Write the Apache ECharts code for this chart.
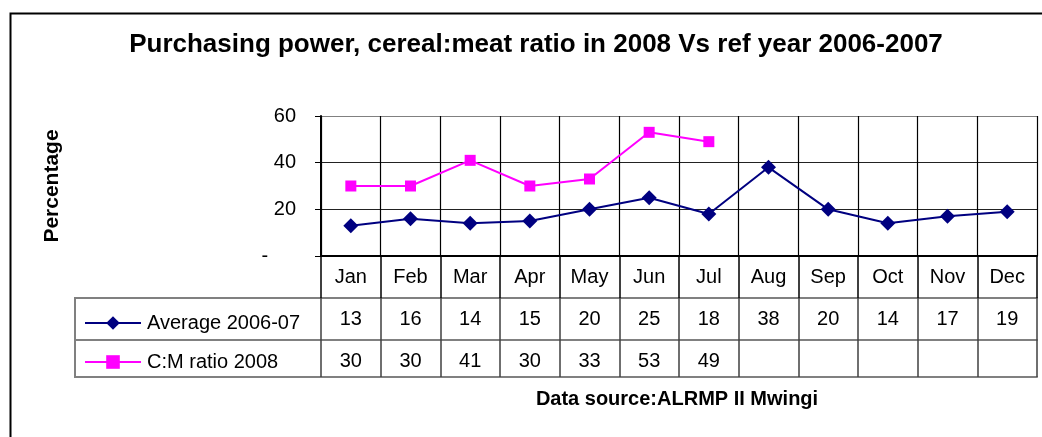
<!DOCTYPE html>
<html>
<head>
<meta charset="utf-8">
<script src="https://cdn.jsdelivr.net/npm/echarts@6/dist/echarts.min.js"></script>
<style>
html,body{margin:0;padding:0;background:#fff;}
#chart{width:1042px;height:437px;}
</style>
</head>
<body>
<div id="chart"></div>
<script>
const months = ['Jan','Feb','Mar','Apr','May','Jun','Jul','Aug','Sep','Oct','Nov','Dec'];
const average0607 = [13,16,14,15,20,25,18,38,20,14,17,19];
const cmRatio2008 = [30,30,41,30,33,53,49,null,null,null,null,null];
const yTicks = [0,20,40,60];
const seriesNames = ['Average 2006-07','C:M ratio 2008'];

const FONT = 'Liberation Sans, Arial, sans-serif';
const chart = echarts.init(document.getElementById('chart'), null, {renderer:'canvas'});

const rowLabels = arr => arr.map(v => v == null ? '' : String(v));

const rowAxis = (data, offset, tickLen) => ({
  type:'category', gridIndex:0, position:'bottom', offset:offset, data:data,
  boundaryGap:true,
  axisLine:{show:true, lineStyle:{color:'#808080', width:2}},
  axisTick:{show:tickLen>0, length:tickLen, lineStyle:{color:'#404040', width:1.5}},
  axisLabel:{show:true, margin:11, fontSize:20, color:'#000', fontFamily:FONT},
  splitLine:{show:false}
});

const legendBase = {left:79, itemWidth:56, itemHeight:17, itemGap:6,
  textStyle:{fontFamily:FONT, fontSize:20, color:'#000', padding:[0,0,0,1]}};

const option = {
  animation:false,
  backgroundColor:'#fff',
  title:{
    text:'Purchasing power, cereal:meat ratio in 2008 Vs ref year 2006-2007',
    left:531, top:27, textAlign:'center',
    textStyle:{fontFamily:FONT, fontWeight:'bold', fontSize:26, color:'#000'}
  },
  legend:[
    Object.assign({data:[seriesNames[0]], top:308}, legendBase),
    Object.assign({data:[seriesNames[1]], top:347}, legendBase)
  ],
  grid:{left:321, right:5, top:116, bottom:181, containLabel:false},
  xAxis:[
    {
      type:'category', data:months, boundaryGap:true, position:'bottom',
      axisLine:{show:true, lineStyle:{color:'#000', width:2}},
      axisTick:{show:true, length:42, lineStyle:{color:'#000', width:1.5}},
      axisLabel:{margin:11, fontSize:20, color:'#000', fontFamily:FONT},
      splitLine:{show:true, lineStyle:{color:'#000', width:1.2}}
    },
    rowAxis(rowLabels(average0607), 42, 42),
    rowAxis(rowLabels(cmRatio2008), 84, 37),
    Object.assign(rowAxis(months.map(()=>''), 121, 0), {axisLabel:{show:false}})
  ],
  yAxis:{
    type:'value', min:yTicks[0], max:yTicks[yTicks.length-1], interval:20,
    axisLine:{show:true, lineStyle:{color:'#000', width:2}},
    axisTick:{show:true, length:6, lineStyle:{color:'#000'}},
    axisLabel:{margin:25, fontSize:20, color:'#000', fontFamily:FONT,
      formatter: v => v === 0 ? '-     ' : String(v)},
    splitLine:{show:true, lineStyle:{color:['#000','#222','#222','#808080'], width:1.2}},
    name:'Percentage', nameLocation:'middle', nameGap:258, nameRotate:90,
    nameTextStyle:{fontFamily:FONT, fontWeight:'bold', fontSize:21, color:'#000'}
  },
  series:[
    {name:seriesNames[0], type:'line', data:average0607, symbol:'diamond', symbolSize:15,
     lineStyle:{color:'#000080', width:2}, itemStyle:{color:'#000080'}, connectNulls:false},
    {name:seriesNames[1], type:'line', data:cmRatio2008, symbol:'rect', symbolSize:11,
     lineStyle:{color:'#FF00FF', width:2}, itemStyle:{color:'#FF00FF'}, connectNulls:false}
  ],
  graphic:[
    {type:'rect', left:8, top:11, shape:{x:0,y:0,width:1100,height:500}, silent:true,
     style:{fill:null, stroke:'#000', lineWidth:2}},
    {type:'line', shape:{x1:75,y1:298,x2:321,y2:298}, style:{stroke:'#808080', lineWidth:2}},
    {type:'line', shape:{x1:75,y1:340,x2:321,y2:340}, style:{stroke:'#808080', lineWidth:2}},
    {type:'line', shape:{x1:75,y1:377,x2:321,y2:377}, style:{stroke:'#808080', lineWidth:2}},
    {type:'line', shape:{x1:75,y1:297,x2:75,y2:378}, style:{stroke:'#808080', lineWidth:2}},
    {type:'text', x:677, y:389,
     style:{text:'Data source:ALRMP II Mwingi', textAlign:'center', fontFamily:FONT, fontWeight:'bold', fontSize:20, fill:'#000'}}
  ]
};
chart.setOption(option);
</script>
</body>
</html>
